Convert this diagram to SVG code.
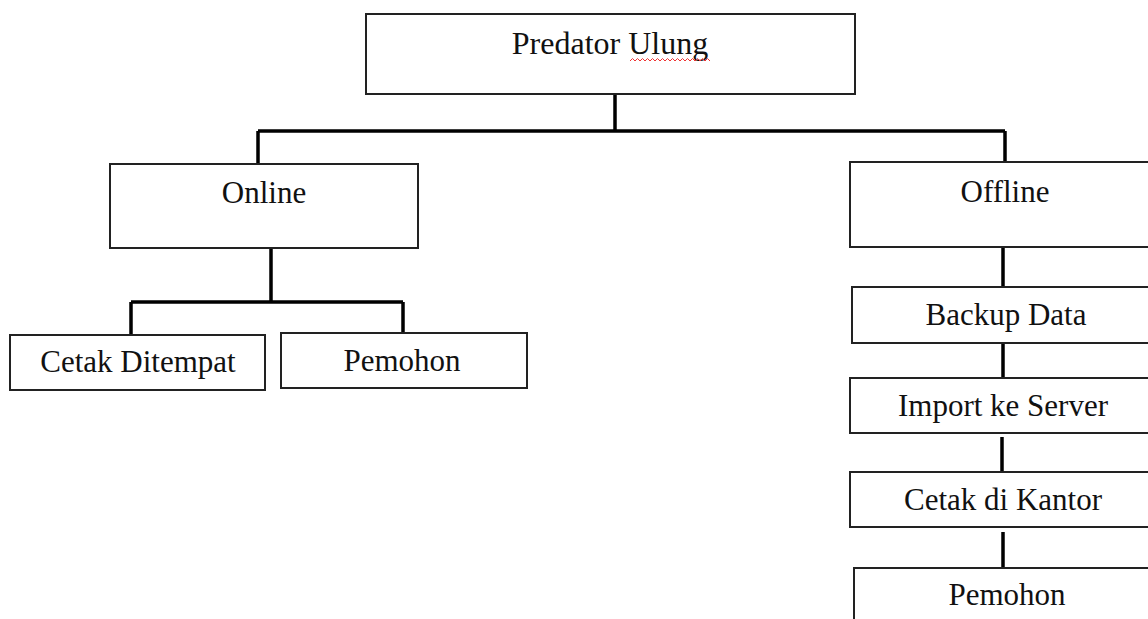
<svg xmlns="http://www.w3.org/2000/svg" width="1148" height="619" viewBox="0 0 1148 619">
<style>
.box{fill:#fff;stroke:#222;stroke-width:2}
.lbl{font-family:"Liberation Serif","Times New Roman",serif;font-size:31px;fill:#111;text-anchor:middle}
.con{fill:none;stroke:#000;stroke-width:3.5}
</style>
<rect width="1148" height="619" fill="#fff"/>
<g id="connectors">
<path class="con" d="M615 94V131M258 131H1005M258 131V164M1005 131V163"/>
<path class="con" d="M271 248V302M131 302H403M131 302V335M403 302V333"/>
<path class="con" d="M1003 247V287M1003 343V378M1002 437V473M1003 532V568"/>
</g>
<g id="n-predator">
<rect class="box" x="366" y="14" width="489" height="80"/>
<text class="lbl" x="610" y="54" style="font-size:32px">Predator Ulung</text>
<path d="M630 61l2.5-2.5 2.5 2.5 2.5-2.5 2.5 2.5 2.5-2.5 2.5 2.5 2.5-2.5 2.5 2.5 2.5-2.5 2.5 2.5 2.5-2.5 2.5 2.5 2.5-2.5 2.5 2.5 2.5-2.5 2.5 2.5 2.5-2.5 2.5 2.5 2.5-2.5 2.5 2.5 2.5-2.5 2.5 2.5 2.5-2.5 2.5 2.5 2.5-2.5 2.5 2.5 2.5-2.5 2.5 2.5 2.5-2.5 2.5 2.5 2.5-2.5 2.5 2.5" fill="none" stroke="#e33" stroke-width="1"/>
</g>
<g id="n-online">
<rect class="box" x="110" y="164" width="308" height="84"/>
<text class="lbl" x="264" y="203">Online</text>
</g>
<g id="n-cetak-ditempat">
<rect class="box" x="10" y="335" width="255" height="55"/>
<text class="lbl" x="138" y="372">Cetak Ditempat</text>
</g>
<g id="n-pemohon-online">
<rect class="box" x="281" y="333" width="246" height="55"/>
<text class="lbl" x="402" y="371">Pemohon</text>
</g>
<g id="n-offline">
<rect class="box" x="850" y="162" width="310" height="85"/>
<text class="lbl" x="1005" y="202">Offline</text>
</g>
<g id="n-backup">
<rect class="box" x="852" y="287" width="310" height="56"/>
<text class="lbl" x="1006" y="325">Backup Data</text>
</g>
<g id="n-import">
<rect class="box" x="850" y="378" width="310" height="55"/>
<text class="lbl" x="1003" y="416">Import ke Server</text>
</g>
<g id="n-cetak-kantor">
<rect class="box" x="850" y="472" width="310" height="55"/>
<text class="lbl" x="1003" y="510">Cetak di Kantor</text>
</g>
<g id="n-pemohon-offline">
<rect class="box" x="854" y="568" width="310" height="60"/>
<text class="lbl" x="1007" y="605">Pemohon</text>
</g>
</svg>
